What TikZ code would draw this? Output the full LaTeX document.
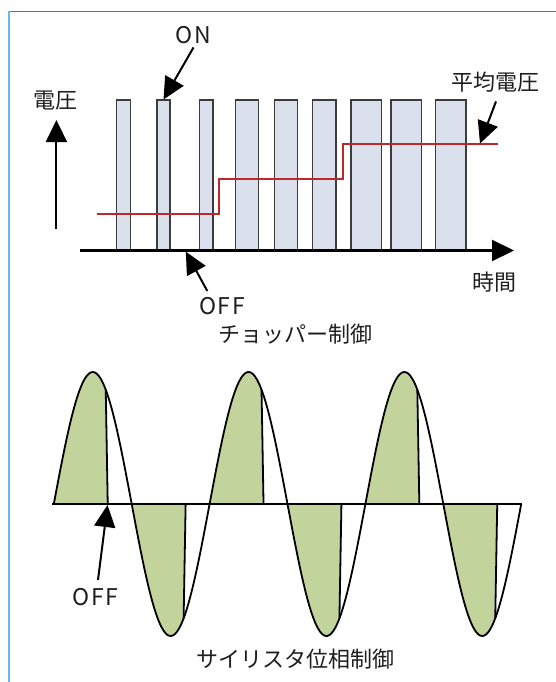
\documentclass[tikz,border=0pt]{standalone}
\usepackage{fontspec}
\setmainfont{Noto Sans CJK JP}
\usetikzlibrary{arrows.meta}
\definecolor{framedark}{RGB}{33,136,201}
\definecolor{framelight}{RGB}{100,186,238}
\definecolor{barfill}{RGB}{218,225,237}
\definecolor{baredge}{RGB}{60,60,60}
\definecolor{avgred}{RGB}{192,39,45}
\definecolor{lobegreen}{RGB}{194,211,155}
\definecolor{txt}{RGB}{30,30,30}
\begin{document}
\begin{tikzpicture}[x=1pt,y=-1pt,
  lbl/.style={inner sep=0pt, font=\fontsize{22}{26}\selectfont, text=txt},
  lat/.style={lbl, font=\fontsize{23}{26}\selectfont\addfontfeature{LetterSpace=7}},
  bigarrow/.style={-{Triangle[length=22pt,width=21pt]}, line width=2pt},
  bar/.style={fill=barfill, draw=baredge, line width=1.3pt},
  avgline/.style={draw=avgred, line width=2.2pt},
  wave/.style={draw=black, line width=1.8pt},
  declare function={wv(\t)=504-132*sin((\t-53.8)*2.310655);}
]
\useasboundingbox (0,0) rectangle (555,682);
% frame
\draw[framedark, line width=1.5pt] (8,11.5) -- (556,11.5);
\draw[framelight, line width=2pt] (8.5,11) -- (8.5,683);

% ---- chopper control ----
\foreach \a/\b in {116.7/130.3,157/170,199.7/213,235.3/258.7,274.3/297.3,312.3/336,351/381.7,391/421.7,435.3/466}
  \draw[bar] (\a,100) rectangle (\b,250);
\draw[avgline] (96.7,214.3) -- (219.3,214.3) -- (219.3,179.3) -- (343.3,179.3) -- (343.3,144) -- (498.3,144);

\coordinate (xs) at (80.4,250.5);
\coordinate (xe) at (514,250.5);
\draw[bigarrow, line width=2.2pt] (xs) -- (xe);
\coordinate (ys) at (56.4,229);
\coordinate (ye) at (56.4,120);
\draw[bigarrow] (ys) -- (ye);

\node[lbl] (lv) at (55.3,100.7) {電圧};
\node[lat] (lon) at (193.5,35.5) {ON};
\node[lbl] (lavg) at (495.8,82.5) {平均電圧};
\node[lbl] (lt) at (494,281.7) {時間};
\node[lat] (loffa) at (222,306) {OFF};
\node[lbl] (lchop) at (295,334.5) {チョッパー制御};

\coordinate (ontail) at (193.5,47.5);
\coordinate (ontip) at (163.5,99.5);
\draw[bigarrow] (ontail) -- (ontip);
\coordinate (avgtail) at (496,101.5);
\coordinate (avgtip) at (480,143.5);
\draw[bigarrow] (avgtail) -- (avgtip);
\coordinate (offatail) at (207.3,291);
\coordinate (offatip) at (185.8,251.7);
\draw[bigarrow] (offatail) -- (offatip);

% ---- thyristor phase control ----
\foreach \k in {0,...,5} {
  \pgfmathsetmacro\s{53.8+77.9*\k}
  \pgfmathsetmacro\c{\s+51.93}
  \fill[lobegreen] plot[domain=\s:\c, samples=40] (\x,{wv(\x)}) -- (\c+2,504) -- (\s,504) -- cycle;
}
\draw[line width=2.2pt] (51.8,504) -- (521.5,504);
\draw[wave] plot[domain=53.8:521.2, samples=240, smooth] (\x,{wv(\x)});
\foreach \k in {0,...,5} {
  \pgfmathsetmacro\c{53.8+77.9*\k+51.93}
  \draw[wave] (\c,{wv(\c)}) -- (\c+2,504);
}

\node[lat] (loffb) at (95.5,597) {OFF};
\node[lbl] (lthy) at (295.8,659.5) {サイリスタ位相制御};
\coordinate (offbtail) at (98,580);
\coordinate (offbtip) at (107.5,505);
\draw[bigarrow] (offbtail) -- (offbtip);
\end{tikzpicture}
\end{document}
